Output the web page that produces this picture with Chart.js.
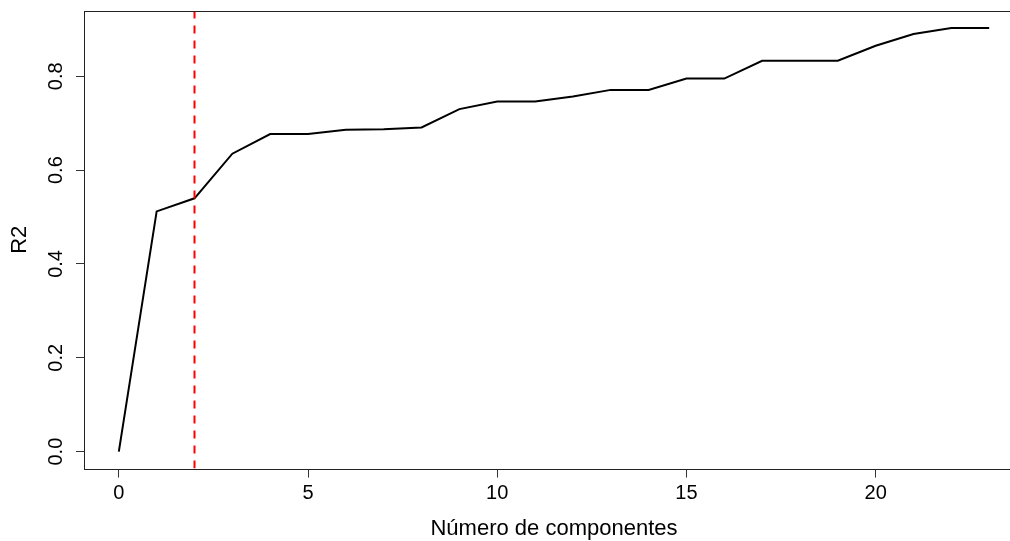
<!DOCTYPE html>
<html>
<head>
<meta charset="utf-8">
<script src="https://cdn.jsdelivr.net/npm/chart.js@4/dist/chart.umd.min.js"></script>
<style>
  html, body { margin: 0; padding: 0; background: #fff; overflow: hidden; }
  #wrap { width: 1030px; height: 541px; position: relative; }
</style>
</head>
<body>
<div id="wrap"><canvas id="c" width="1030" height="541"></canvas></div>
<script>
// ---- data ----
const components = [0,1,2,3,4,5,6,7,8,9,10,11,12,13,14,15,16,17,18,19,20,21,22,23];
const r2Values = [0.000,0.512,0.540,0.635,0.677,0.677,0.686,0.687,0.691,0.730,0.746,0.746,0.757,0.771,0.771,0.795,0.795,0.833,0.833,0.833,0.865,0.890,0.903,0.903];
const xTicks = [0,5,10,15,20];
const yTicks = [0.0,0.2,0.4,0.6,0.8];
const yTickLabels = ['0.0','0.2','0.4','0.6','0.8'];
const cutoff = 2;
const xTitle = 'Número de componentes';
const yTitle = 'R2';

// R-style 4% axis extension
const xMinData = Math.min(...components), xMaxData = Math.max(...components);
const yMinData = Math.min(...r2Values), yMaxData = Math.max(...r2Values);
const xPad = (xMaxData - xMinData) * 0.04, yPad = (yMaxData - yMinData) * 0.04;
const xMin = xMinData - xPad, xMax = xMaxData + xPad;
const yMin = yMinData - yPad, yMax = yMaxData + yPad;

const FONT = '"Liberation Sans", Arial, sans-serif';

const mainPoints = components.map((x, i) => ({ x: x, y: r2Values[i] }));
const cutPoints = [{ x: cutoff, y: yMin }, { x: cutoff, y: yMax }];

const rPlugin = {
  id: 'rstyle',
  afterDraw(chart) {
    const ctx = chart.ctx, a = chart.chartArea, ys = chart.scales.y;
    ctx.save();
    // box
    ctx.strokeStyle = '#222';
    ctx.lineWidth = 1;
    ctx.strokeRect(Math.round(a.left) + 0.5, Math.round(a.top) + 0.5,
                   Math.round(a.right - a.left), Math.round(a.bottom - a.top));
    // rotated y tick labels
    ctx.fillStyle = '#000';
    ctx.font = '20px ' + FONT;
    ctx.textAlign = 'center';
    ctx.textBaseline = 'middle';
    yTicks.forEach((v, i) => {
      const py = ys.getPixelForValue(v);
      ctx.save();
      ctx.translate(56, py);
      ctx.rotate(-Math.PI / 2);
      ctx.fillText(yTickLabels[i], 0, 0);
      ctx.restore();
    });
    ctx.restore();
  }
};

new Chart(document.getElementById('c'), {
  type: 'line',
  data: {
    datasets: [
      {
        label: 'cutoff',
        data: cutPoints,
        borderColor: '#ff0000',
        borderWidth: 2,
        borderDash: [8, 7],
        pointRadius: 0,
        fill: false,
        order: 0
      },
      {
        label: 'R2',
        data: mainPoints,
        borderColor: '#000000',
        borderWidth: 2,
        pointRadius: 0,
        tension: 0,
        fill: false,
        order: 1
      }
    ]
  },
  options: {
    responsive: false,
    animation: false,
    devicePixelRatio: 1,
    layout: { padding: { top: 11, right: 6, left: 0, bottom: 0 } },
    plugins: { legend: { display: false }, tooltip: { enabled: false } },
    scales: {
      x: {
        type: 'linear',
        min: xMin,
        max: xMax,
        afterBuildTicks: s => { s.ticks = xTicks.map(v => ({ value: v })); },
        afterFit: s => { s.height = 72.4; },
        border: { display: false },
        grid: { drawOnChartArea: false, drawTicks: true, tickLength: 9, color: '#333', lineWidth: 1 },
        ticks: { color: '#000', font: { family: FONT, size: 20 }, padding: 4, maxRotation: 0 },
        title: { display: true, text: xTitle, color: '#000', font: { family: FONT, size: 22 }, padding: { top: 0, bottom: -1 } }
      },
      y: {
        type: 'linear',
        min: yMin,
        max: yMax,
        afterBuildTicks: s => { s.ticks = yTicks.map(v => ({ value: v })); },
        afterFit: s => { s.width = 84; },
        border: { display: false },
        grid: { drawOnChartArea: false, drawTicks: true, tickLength: 8, color: '#333', lineWidth: 1 },
        ticks: { display: false },
        title: { display: true, text: yTitle, color: '#000', font: { family: FONT, size: 22 }, padding: { top: 7, bottom: 0 } }
      }
    }
  },
  plugins: [rPlugin]
});
</script>
</body>
</html>
